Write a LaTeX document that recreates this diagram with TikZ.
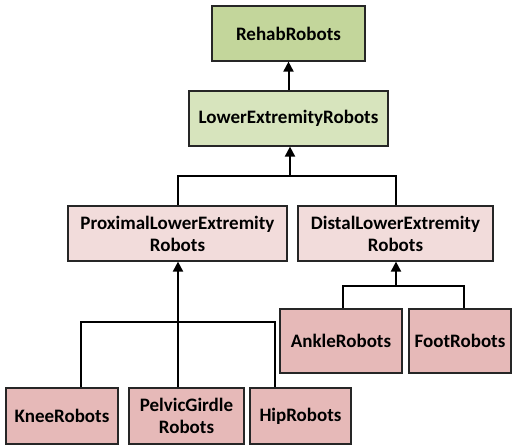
\documentclass[tikz,border=0pt]{standalone}
\usepackage{fontspec}
\setmainfont{Carlito}
\usepackage{tikz}
\usetikzlibrary{arrows.meta,calc,positioning}
\definecolor{RootColor}{HTML}{C3D69B}
\definecolor{LowColor} {HTML}{D7E4BD}
\definecolor{MidColor} {HTML}{F2DCDB}
\definecolor{LeafColor}{HTML}{E6B9B8}
\definecolor{EdgeColor}{HTML}{262626}

\begin{document}
\begin{tikzpicture}[x=1pt,y=-1pt,
  every node/.style={align=center,font=\fontsize{19}{22}\selectfont\bfseries,inner sep=0pt},
  box/.style={draw=EdgeColor,line width=1.2pt},
  link/.style={line width=2pt},
  arr/.style={line width=2pt,-{Triangle[width=10pt,length=10pt]}}]
\useasboundingbox (0,0) rectangle (512,445);
\node[box,fill=RootColor,minimum width=153pt,minimum height=55pt] (rehab) at (288.5,33.5) {RehabRobots};
\node[box,fill=LowColor,minimum width=199pt,minimum height=55pt] (lower) at (288.5,118.5) {LowerExtremityRobots};
\node[box,fill=MidColor,minimum width=219pt,minimum height=55pt] (prox) at (177.5,233.5) {ProximalLowerExtremity\\Robots};
\node[box,fill=MidColor,minimum width=195pt,minimum height=55pt] (dist) at (395.5,233.5) {DistalLowerExtremity\\Robots};
\node[box,fill=LeafColor,minimum width=122pt,minimum height=64pt] (ankle) at (341,341) {AnkleRobots};
\node[box,fill=LeafColor,minimum width=102pt,minimum height=64pt] (foot) at (460,341) {FootRobots};
\node[box,fill=LeafColor,minimum width=112pt,minimum height=56pt] (knee) at (62,416) {KneeRobots};
\node[box,fill=LeafColor,minimum width=115pt,minimum height=56pt] (pelvic) at (186.5,416) {PelvicGirdle\\Robots};
\node[box,fill=LeafColor,minimum width=101pt,minimum height=56pt] (hip) at (300.5,416) {HipRobots};
% junctions
\coordinate (lj) at (290,176);
\coordinate (pj) at (178,322);
\coordinate (dj) at (396,286);
% top levels
\draw[arr] (lower) -- (rehab);
\draw[link] (prox.north) |- (lj) -| (dist.north);
\draw[arr] (lj) -- (lower.south -| lj);
% proximal branch
\draw[link] ([xshift=19pt]knee.north) |- (pj) -| ([xshift=-25.5pt]hip.north);
\draw[arr] ([xshift=-8.5pt]pelvic.north) -- (prox.south -| pj);
% distal branch
\draw[link] ([xshift=2pt]ankle.north) |- (dj) -| ([xshift=4pt]foot.north);
\draw[arr] (dj) -- (dist.south -| dj);
\end{tikzpicture}
\end{document}
